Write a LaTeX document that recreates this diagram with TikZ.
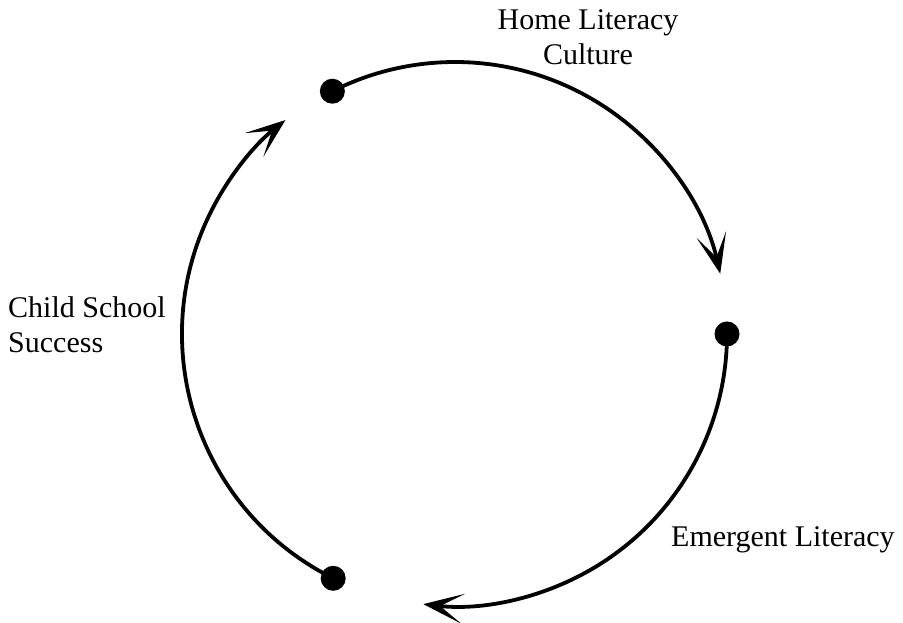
\documentclass[tikz,border=0pt]{standalone}
\usepackage{fontspec}
\setmainfont{Liberation Serif}
\usetikzlibrary{arrows.meta}
\tikzset{
  dot/.style={circle,fill=black,inner sep=0pt,minimum size=25pt},
  cyc/.style={line width=3.8pt},
  lbl/.style={inner sep=0pt,font=\fontsize{30}{35}\selectfont}}
\begin{document}
\begin{tikzpicture}[x=1pt,y=1pt]
\useasboundingbox (0,0) rectangle (903,623);
\coordinate (O) at (455,289);
\node[dot] (d1) at ([shift={(116.8:272)}]O) {};
\node[dot] (d2) at ([shift={(0:272)}]O) {};
\node[dot] (d3) at ([shift={(243.5:273)}]O) {};
\draw[cyc,-{Stealth[length=40pt,width=30pt,inset=23pt]}] (d1.center) arc[start angle=116.8, end angle=12.8, radius=272];
\draw[cyc,-{Stealth[length=40pt,width=30pt,inset=23pt]}] (d2.center) arc[start angle=0, end angle=-96.7, radius=272];
\draw[cyc,-{Stealth[length=40pt,width=30pt,inset=23pt]}] (d3.center) arc[start angle=243.5, end angle=128.4, radius=273];
\node[lbl,align=center,anchor=base] (t1) at (588,558) {Home Literacy\\Culture};
\node[lbl,align=left,anchor=base west] (t2) at (8,270) {Child School\\Success};
\node[lbl,anchor=base west] (t3) at (671,76) {Emergent Literacy};
\end{tikzpicture}
\end{document}
